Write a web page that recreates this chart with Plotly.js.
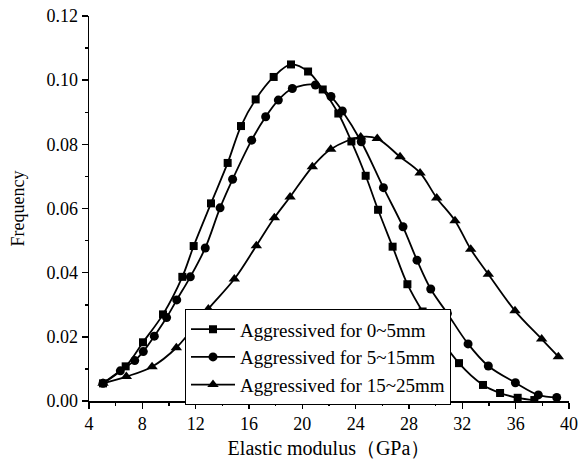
<!DOCTYPE html>
<html>
<head>
<meta charset="utf-8">
<script src="https://cdn.plot.ly/plotly-3.0.1.min.js"></script>
<style>html,body{margin:0;padding:0;background:#fff;}#chart{width:580px;height:471px;}</style>
</head>
<body>
<div id="chart"></div>
<script>
// Series names
const seriesNames = ["Aggressived for 0~5mm", "Aggressived for 5~15mm", "Aggressived for 15~25mm"];

// Aggressived for 0~5mm (squares)
const sqX = [5.05, 6.75, 8.05, 9.55, 11.0, 11.85, 13.15, 14.4, 15.4, 16.5, 17.85, 19.15, 20.43, 21.53, 22.7, 23.68, 24.75, 25.68, 26.77, 27.88, 29.02, 31.75, 33.55, 34.83, 36.15, 37.4];
const sqY = [0.0055, 0.0108, 0.0183, 0.0270, 0.0387, 0.0483, 0.0616, 0.0742, 0.0857, 0.0940, 0.1010, 0.1049, 0.1027, 0.0971, 0.0896, 0.0809, 0.0702, 0.0596, 0.0481, 0.0364, 0.0279, 0.0118, 0.0050, 0.0025, 0.0010, 0.0003];

// Aggressived for 5~15mm (circles)
const ciX = [5.05, 6.35, 7.43, 8.07, 8.9, 9.82, 10.58, 11.6, 12.72, 13.83, 14.77, 16.2, 17.25, 18.2, 19.25, 20.98, 22.15, 23.0, 24.42, 26.08, 27.55, 28.6, 29.63, 30.88, 32.43, 33.95, 35.98, 37.7, 39.08];
const ciY = [0.0055, 0.0094, 0.0126, 0.0154, 0.0202, 0.0260, 0.0315, 0.0387, 0.0477, 0.0602, 0.0691, 0.0813, 0.0886, 0.0938, 0.0974, 0.0985, 0.0949, 0.0904, 0.0808, 0.0665, 0.0543, 0.0439, 0.0349, 0.0273, 0.0178, 0.0109, 0.0057, 0.0019, 0.0011];

// Aggressived for 15~25mm (triangles)
const trX = [5.05, 6.8, 8.73, 10.55, 12.95, 14.9, 16.55, 17.9, 19.08, 20.75, 22.13, 24.38, 25.62, 27.33, 28.83, 30.08, 31.45, 32.63, 33.95, 35.95, 37.95, 39.2];
const trY = [0.0055, 0.0076, 0.0107, 0.0166, 0.0287, 0.0380, 0.0484, 0.0571, 0.0636, 0.0730, 0.0785, 0.0823, 0.0818, 0.0761, 0.0711, 0.0633, 0.0562, 0.0473, 0.0395, 0.0281, 0.0193, 0.0138];

// Axis tick values
const xTicks = [4, 8, 12, 16, 20, 24, 28, 32, 36, 40];
const yTicks = [0.00, 0.02, 0.04, 0.06, 0.08, 0.10, 0.12];

const serif = "Liberation Serif, Times New Roman, serif";

function mk(x, y, name, symbol, size) {
  return {
    x: x, y: y, name: name, type: "scatter", mode: "lines+markers",
    line: {color: "#000", width: 1.8, shape: "spline", smoothing: 1},
    marker: {symbol: symbol, size: size, color: "#000"}
  };
}

const data = [
  mk(sqX, sqY, seriesNames[0], "square", 8),
  mk(ciX, ciY, seriesNames[1], "circle", 9),
  mk(trX, trY, seriesNames[2], "triangle-up", 10)
];

const axisCommon = {
  showline: true, linecolor: "#000", linewidth: 1.5,
  ticks: "outside", ticklen: 6, tickwidth: 1.5, tickcolor: "#000",
  showgrid: false, zeroline: false, mirror: false,
  tickfont: {family: serif, size: 18, color: "#000"}
};

const layout = {
  width: 580, height: 471,
  margin: {l: 89, r: 11, t: 16, b: 70},
  paper_bgcolor: "#fff", plot_bgcolor: "#fff",
  font: {family: serif, color: "#000"},
  showlegend: true,
  legend: {
    x: 0.2, y: 0.238, xanchor: "left", yanchor: "top",
    bgcolor: "#fff", bordercolor: "#000", borderwidth: 1,
    font: {family: serif, size: 19, color: "#000"},
    itemwidth: 44,
    tracegroupgap: 0
  },
  xaxis: Object.assign({}, axisCommon, {
    range: [4, 40], tickvals: xTicks, ticktext: xTicks.map(String),
    minor: {dtick: 2, ticklen: 3, tickwidth: 1.5, tickcolor: "#000", ticks: "outside", showgrid: false},
    title: {text: "Elastic modulus（GPa）", font: {family: serif, size: 20, color: "#000"}, standoff: 8}
  }),
  yaxis: Object.assign({}, axisCommon, {
    range: [0, 0.12], tickvals: yTicks, ticktext: yTicks.map(v => v.toFixed(2)),
    minor: {dtick: 0.01, ticklen: 3, tickwidth: 1.5, tickcolor: "#000", ticks: "outside", showgrid: false},
    title: {text: "Frequency", font: {family: serif, size: 18, color: "#000"}, standoff: 17}
  })
};

Plotly.newPlot("chart", data, layout, {staticPlot: true, displayModeBar: false});
</script>
</body>
</html>
